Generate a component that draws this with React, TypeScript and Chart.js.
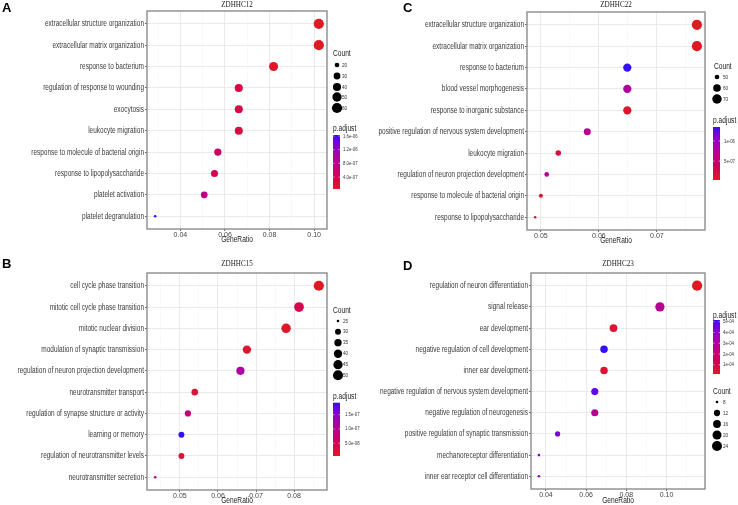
import React, { useEffect, useRef } from "react";
import { Chart, registerables } from "chart.js";
Chart.register(...registerables);

// ---------- Panel A : ZDHHC12 ----------
const termsA = [
  "extracellular structure organization",
  "extracellular matrix organization",
  "response to bacterium",
  "regulation of response to wounding",
  "exocytosis",
  "leukocyte migration",
  "response to molecule of bacterial origin",
  "response to lipopolysaccharide",
  "platelet activation",
  "platelet degranulation",
];
const ratioA = [0.1021, 0.1021, 0.0818, 0.0662, 0.0662, 0.0662, 0.0568, 0.0553, 0.0507, 0.0287];
const countA = [60, 60, 48, 39, 39, 39, 33, 32, 30, 17];
const padjA = [5e-8, 6e-8, 9e-8, 3e-7, 3e-7, 2.5e-7, 5e-7, 4e-7, 8e-7, 1.63e-6];
const countBreaksA = [20, 30, 40, 50, 60];
const padjBreaksA = [1.6e-6, 1.2e-6, 8e-7, 4e-7];
const padjLabelsA = ["1.6e-06", "1.2e-06", "8.0e-07", "4.0e-07"];
const xMajorA = [0.04, 0.06, 0.08, 0.1];
const xLabelsA = ["0.04", "0.06", "0.08", "0.10"];
const xMinorA = [0.03, 0.05, 0.07, 0.09];

// ---------- Panel B : ZDHHC15 ----------
const termsB = [
  "cell cycle phase transition",
  "mitotic cell cycle phase transition",
  "mitotic nuclear division",
  "modulation of synaptic transmission",
  "regulation of neuron projection development",
  "neurotransmitter transport",
  "regulation of synapse structure or activity",
  "learning or memory",
  "regulation of neurotransmitter levels",
  "neurotransmitter secretion",
];
const ratioB = [0.0865, 0.0813, 0.0779, 0.0676, 0.0659, 0.0539, 0.0521, 0.0504, 0.0504, 0.0435];
const countB = [51, 48, 46, 40, 39, 32, 31, 30, 30, 25];
const padjB = [5e-9, 4e-8, 1e-8, 1.5e-8, 1.2e-7, 2e-8, 8e-8, 1.92e-7, 2e-8, 7e-8];
const countBreaksB = [25, 30, 35, 40, 45, 50];
const padjBreaksB = [1.5e-7, 1e-7, 5e-8];
const padjLabelsB = ["1.5e-07", "1.0e-07", "5.0e-08"];
const xMajorB = [0.05, 0.06, 0.07, 0.08];
const xLabelsB = ["0.05", "0.06", "0.07", "0.08"];
const xMinorB = [0.045, 0.055, 0.065, 0.075, 0.085];

// ---------- Panel C : ZDHHC22 ----------
const termsC = [
  "extracellular structure organization",
  "extracellular matrix organization",
  "response to bacterium",
  "blood vessel morphogenesis",
  "response to inorganic substance",
  "positive regulation of nervous system development",
  "leukocyte migration",
  "regulation of neuron projection development",
  "response to molecule of bacterial origin",
  "response to lipopolysaccharide",
];
const ratioC = [0.0769, 0.0769, 0.0649, 0.0649, 0.0649, 0.058, 0.053, 0.051, 0.05, 0.049];
const countC = [75, 75, 63, 63, 63, 57, 52, 50, 49, 48];
const padjC = [3e-8, 4e-8, 1.35e-6, 8e-7, 1e-7, 7e-7, 2e-7, 7.5e-7, 1e-7, 1e-7];
const countBreaksC = [50, 60, 70];
const padjBreaksC = [1e-6, 5e-7];
const padjLabelsC = ["1e-06", "5e-07"];
const xMajorC = [0.05, 0.06, 0.07];
const xLabelsC = ["0.05", "0.06", "0.07"];
const xMinorC = [0.055, 0.065, 0.075];

// ---------- Panel D : ZDHHC23 ----------
const termsD = [
  "regulation of neuron differentiation",
  "signal release",
  "ear development",
  "negative regulation of cell development",
  "inner ear development",
  "negative regulation of nervous system development",
  "negative regulation of neurogenesis",
  "positive regulation of synaptic transmission",
  "mechanoreceptor differentiation",
  "inner ear receptor cell differentiation",
];
const ratioD = [0.1152, 0.0967, 0.0736, 0.0689, 0.0689, 0.0643, 0.0643, 0.0458, 0.0365, 0.0365];
const countD = [25, 21, 16, 15, 15, 14, 14, 10, 8, 8];
const padjD = [1.4e-5, 2.8e-4, 4e-5, 5.16e-4, 5e-5, 4.8e-4, 2.8e-4, 4.4e-4, 4.5e-4, 3.8e-4];
const countBreaksD = [8, 12, 16, 20, 24];
const padjBreaksD = [5e-4, 4e-4, 3e-4, 2e-4, 1e-4];
const padjLabelsD = ["5e-04", "4e-04", "3e-04", "2e-04", "1e-04"];
const xMajorD = [0.04, 0.06, 0.08, 0.1];
const xLabelsD = ["0.04", "0.06", "0.08", "0.10"];
const xMinorD = [0.05, 0.07, 0.09, 0.11];

// ---------- helpers ----------
const SANS = "'Liberation Sans', Arial, sans-serif";
const SERIF = "'Liberation Serif', 'DejaVu Serif', serif";
const NARROW = 0.78; // horizontal squeeze to mimic the condensed label face

const LOW = [224, 26, 34];
const HIGH = [52, 16, 250];
function lin(c: number) {
  c /= 255;
  return c <= 0.04045 ? c / 12.92 : Math.pow((c + 0.055) / 1.055, 2.4);
}
function gam(c: number) {
  const v = c <= 0.0031308 ? 12.92 * c : 1.055 * Math.pow(Math.max(c, 0), 1 / 2.4) - 0.055;
  return Math.max(0, Math.min(255, Math.round(v * 255)));
}
function toLab(rgb: number[]) {
  const [r, g, b] = rgb.map(lin);
  const X = (0.4124 * r + 0.3576 * g + 0.1805 * b) / 0.95047;
  const Y = 0.2126 * r + 0.7152 * g + 0.0722 * b;
  const Z = (0.0193 * r + 0.1192 * g + 0.9505 * b) / 1.08883;
  const f = (t: number) => (t > 0.008856 ? Math.cbrt(t) : 7.787 * t + 16 / 116);
  const fx = f(X), fy = f(Y), fz = f(Z);
  return [116 * fy - 16, 500 * (fx - fy), 200 * (fy - fz)];
}
function fromLab(L: number, a: number, bb: number) {
  const fy = (L + 16) / 116, fx = fy + a / 500, fz = fy - bb / 200;
  const fi = (t: number) => (t > 0.206893 ? t * t * t : (t - 16 / 116) / 7.787);
  const X = fi(fx) * 0.95047, Y = fi(fy), Z = fi(fz) * 1.08883;
  const r = 3.2406 * X - 1.5372 * Y - 0.4986 * Z;
  const g = -0.9689 * X + 1.8758 * Y + 0.0415 * Z;
  const b = 0.0557 * X - 0.204 * Y + 1.057 * Z;
  return `rgb(${gam(r)},${gam(g)},${gam(b)})`;
}
const LAB_LOW = toLab(LOW);
const LAB_HIGH = toLab(HIGH);
function colorAt(t: number) {
  t = Math.max(0, Math.min(1, t));
  return fromLab(
    LAB_LOW[0] + (LAB_HIGH[0] - LAB_LOW[0]) * t,
    LAB_LOW[1] + (LAB_HIGH[1] - LAB_LOW[1]) * t,
    LAB_LOW[2] + (LAB_HIGH[2] - LAB_LOW[2]) * t
  );
}

function narrowText(
  ctx: CanvasRenderingContext2D,
  text: string,
  x: number,
  y: number,
  align: CanvasTextAlign,
  sx = NARROW
) {
  ctx.save();
  ctx.translate(x, y);
  ctx.scale(sx, 1);
  ctx.textAlign = align;
  ctx.fillText(text, 0, 0);
  ctx.restore();
}

type Panel = {
  left: number; top: number; w: number; h: number;
  plotLeft: number; plotRight: number; plotTop: number; plotBottom: number;
  letter: string; letterX: number; letterY: number;
  title: string; titleY: number; axisTitleY: number;
  terms: string[]; ratio: number[]; count: number[]; padj: number[];
  countBreaks: number[]; padjBreaks: number[]; padjLabels: string[];
  xMajor: number[]; xLabels: string[]; xMinor: number[];
  countTitle: [number, number]; countItemsY: number[]; circleX: number; countLabelX: number;
  padjTitle: [number, number]; bar: [number, number, number, number]; padjLabelX: number;
};

const panels: Panel[] = [
  {
    left: 0, top: 0, w: 370, h: 250,
    plotLeft: 147, plotRight: 327, plotTop: 11, plotBottom: 229,
    letter: "A", letterX: 2, letterY: 12, title: "ZDHHC12", titleY: 5, axisTitleY: 240,
    terms: termsA, ratio: ratioA, count: countA, padj: padjA,
    countBreaks: countBreaksA, padjBreaks: padjBreaksA, padjLabels: padjLabelsA,
    xMajor: xMajorA, xLabels: xLabelsA, xMinor: xMinorA,
    countTitle: [333, 54], countItemsY: [65, 76, 87, 97, 108], circleX: 337, countLabelX: 342,
    padjTitle: [333, 129], bar: [333, 135, 7, 54], padjLabelX: 343,
  },
  {
    left: 0, top: 250, w: 370, h: 255,
    plotLeft: 147, plotRight: 327, plotTop: 23, plotBottom: 240,
    letter: "B", letterX: 2, letterY: 18, title: "ZDHHC15", titleY: 14, axisTitleY: 251,
    terms: termsB, ratio: ratioB, count: countB, padj: padjB,
    countBreaks: countBreaksB, padjBreaks: padjBreaksB, padjLabels: padjLabelsB,
    xMajor: xMajorB, xLabels: xLabelsB, xMinor: xMinorB,
    countTitle: [333, 61], countItemsY: [71, 81.7, 92.7, 103.7, 114.7, 125.3], circleX: 338, countLabelX: 343,
    padjTitle: [333, 146.7], bar: [333, 152.7, 7, 53.3], padjLabelX: 345,
  },
  {
    left: 370, top: 0, w: 368, h: 250,
    plotLeft: 157, plotRight: 335, plotTop: 12, plotBottom: 230,
    letter: "C", letterX: 33, letterY: 12, title: "ZDHHC22", titleY: 5, axisTitleY: 241,
    terms: termsC, ratio: ratioC, count: countC, padj: padjC,
    countBreaks: countBreaksC, padjBreaks: padjBreaksC, padjLabels: padjLabelsC,
    xMajor: xMajorC, xLabels: xLabelsC, xMinor: xMinorC,
    countTitle: [344, 67], countItemsY: [77, 88, 99], circleX: 347, countLabelX: 353,
    padjTitle: [343, 121], bar: [343, 127, 7, 53], padjLabelX: 354,
  },
  {
    left: 370, top: 250, w: 368, h: 255,
    plotLeft: 161, plotRight: 335, plotTop: 23, plotBottom: 239,
    letter: "D", letterX: 33, letterY: 20, title: "ZDHHC23", titleY: 14, axisTitleY: 251,
    terms: termsD, ratio: ratioD, count: countD, padj: padjD,
    countBreaks: countBreaksD, padjBreaks: padjBreaksD, padjLabels: padjLabelsD,
    xMajor: xMajorD, xLabels: xLabelsD, xMinor: xMinorD,
    countTitle: [343, 142], countItemsY: [152, 163, 174, 185, 196], circleX: 347, countLabelX: 353,
    padjTitle: [343, 66], bar: [343, 70, 7, 54], padjLabelX: 353,
  },
];

function makeChart(canvas: HTMLCanvasElement, p: Panel) {
  const cmin = Math.min(...p.count), cmax = Math.max(...p.count);
  const radius = (c: number) => 1.3 + 3.8 * Math.sqrt(Math.max(0, (c - cmin) / (cmax - cmin)));
  const pmin = Math.min(...p.padj), pmax = Math.max(...p.padj);
  const colorFor = (v: number) => colorAt((v - pmin) / (pmax - pmin));
  const rmin = Math.min(...p.ratio), rmax = Math.max(...p.ratio);
  const ex = (rmax - rmin) * 0.05;
  const n = p.terms.length;
  const xTicks = [...p.xMajor, ...p.xMinor].sort((a, b) => a - b);
  const isMajor = (v: number) => p.xMajor.some((m) => Math.abs(m - v) < 1e-9);

  const deco = {
    id: "deco",
    afterDraw(chart: any) {
      const ctx = chart.ctx as CanvasRenderingContext2D;
      const a = chart.chartArea;
      const ys = chart.scales.y;
      ctx.save();
      // y category labels
      ctx.font = `9px ${SANS}`;
      ctx.fillStyle = "#3a3a3a";
      ctx.textBaseline = "middle";
      p.terms.forEach((t, i) => {
        narrowText(ctx, t, a.left - 3, ys.getPixelForValue(i), "right", 0.72);
      });
      // panel border
      ctx.strokeStyle = "#8c8c8c";
      ctx.lineWidth = 1.4;
      ctx.strokeRect(a.left, a.top, a.right - a.left, a.bottom - a.top);
      // letter
      ctx.fillStyle = "#000";
      ctx.font = `bold 13px ${SANS}`;
      ctx.textAlign = "left";
      ctx.textBaseline = "alphabetic";
      ctx.fillText(p.letter, p.letterX, p.letterY);
      // title
      ctx.font = `7.5px ${SERIF}`;
      ctx.fillStyle = "#222";
      ctx.textBaseline = "middle";
      narrowText(ctx, p.title, (a.left + a.right) / 2, p.titleY, "center", 0.95);
      // axis title
      ctx.font = `8.5px ${SANS}`;
      narrowText(ctx, "GeneRatio", (a.left + a.right) / 2, p.axisTitleY, "center");
      // Count legend
      ctx.font = `8.5px ${SANS}`;
      narrowText(ctx, "Count", p.countTitle[0], p.countTitle[1], "left");
      ctx.font = `6px ${SANS}`;
      p.countBreaks.forEach((c, i) => {
        const y = p.countItemsY[i];
        ctx.fillStyle = "#000";
        ctx.beginPath();
        ctx.arc(p.circleX, y, radius(c), 0, Math.PI * 2);
        ctx.fill();
        ctx.fillStyle = "#333";
        narrowText(ctx, String(c), p.countLabelX, y, "left");
      });
      // p.adjust legend
      ctx.fillStyle = "#222";
      ctx.font = `8.5px ${SANS}`;
      narrowText(ctx, "p.adjust", p.padjTitle[0], p.padjTitle[1], "left");
      const [bx, by, bw, bh] = p.bar;
      const grad = ctx.createLinearGradient(0, by + bh, 0, by);
      for (let k = 0; k <= 10; k++) grad.addColorStop(k / 10, colorAt(k / 10));
      ctx.fillStyle = grad;
      ctx.fillRect(bx, by, bw, bh);
      ctx.font = `5.5px ${SANS}`;
      p.padjBreaks.forEach((v, i) => {
        const y = by + ((pmax - v) / (pmax - pmin)) * bh;
        ctx.strokeStyle = "rgba(255,255,255,0.9)";
        ctx.lineWidth = 0.6;
        ctx.beginPath();
        ctx.moveTo(bx, y);
        ctx.lineTo(bx + 1.5, y);
        ctx.moveTo(bx + bw - 1.5, y);
        ctx.lineTo(bx + bw, y);
        ctx.stroke();
        ctx.fillStyle = "#333";
        narrowText(ctx, p.padjLabels[i], p.padjLabelX, y, "left");
      });
      ctx.restore();
    },
  };

  return new Chart(canvas, {
    type: "scatter",
    data: {
      datasets: [
        {
          data: p.ratio.map((x, i) => ({ x, y: i })),
          pointRadius: p.count.map(radius),
          pointHoverRadius: p.count.map(radius),
          pointBackgroundColor: p.padj.map(colorFor),
          pointBorderWidth: 0,
          pointBorderColor: "rgba(0,0,0,0)",
        } as any,
      ],
    },
    options: {
      animation: false,
      responsive: false,
      maintainAspectRatio: false,
      devicePixelRatio: 1,
      events: [],
      layout: { padding: { left: 0, right: p.w - p.plotRight, top: p.plotTop, bottom: 0 } },
      plugins: { legend: { display: false }, tooltip: { enabled: false }, title: { display: false } },
      scales: {
        x: {
          type: "linear",
          min: rmin - ex,
          max: rmax + ex,
          afterBuildTicks: (s: any) => {
            s.ticks = xTicks.map((v) => ({ value: v }));
          },
          afterFit: (s: any) => {
            s.height = p.h - p.plotBottom;
          },
          ticks: {
            autoSkip: false,
            maxRotation: 0,
            padding: 0,
            color: "#444",
            font: { family: SANS, size: 7 },
            callback: (v: any) => {
              const idx = p.xMajor.findIndex((m) => Math.abs(m - v) < 1e-9);
              return idx >= 0 ? p.xLabels[idx] : "";
            },
          },
          grid: {
            color: (c: any) => (c.tick && isMajor(c.tick.value) ? "#e8e8e8" : "#f3f3f3"),
            lineWidth: (c: any) => (c.tick && isMajor(c.tick.value) ? 0.9 : 0.5),
            tickLength: 2,
            tickColor: (c: any) => (c.tick && isMajor(c.tick.value) ? "#555" : "rgba(0,0,0,0)"),
          },
          border: { display: false },
        },
        y: {
          type: "linear",
          min: -0.6,
          max: n - 1 + 0.6,
          reverse: true,
          afterBuildTicks: (s: any) => {
            s.ticks = p.terms.map((_, i) => ({ value: i }));
          },
          afterFit: (s: any) => {
            s.width = p.plotLeft;
          },
          ticks: {
            display: false,
            autoSkip: false,
          },
          grid: {
            color: "#e8e8e8",
            lineWidth: 0.9,
            tickLength: 2,
            tickColor: "#555",
          },
          border: { display: false },
        },
      },
    } as any,
    plugins: [deco],
  });
}

function PanelCanvas({ p }: { p: Panel }) {
  const ref = useRef<HTMLCanvasElement | null>(null);
  useEffect(() => {
    if (!ref.current) return;
    const ch = makeChart(ref.current, p);
    return () => ch.destroy();
  }, [p]);
  return (
    <canvas
      ref={ref}
      width={p.w}
      height={p.h}
      style={{ position: "absolute", left: p.left, top: p.top, width: p.w, height: p.h }}
    />
  );
}

export default function App() {
  return (
    <div style={{ position: "absolute", left: 0, top: 0, width: 738, height: 505, background: "#fff", overflow: "hidden" }}>
      {panels.map((p) => (
        <PanelCanvas key={p.title} p={p} />
      ))}
    </div>
  );
}
